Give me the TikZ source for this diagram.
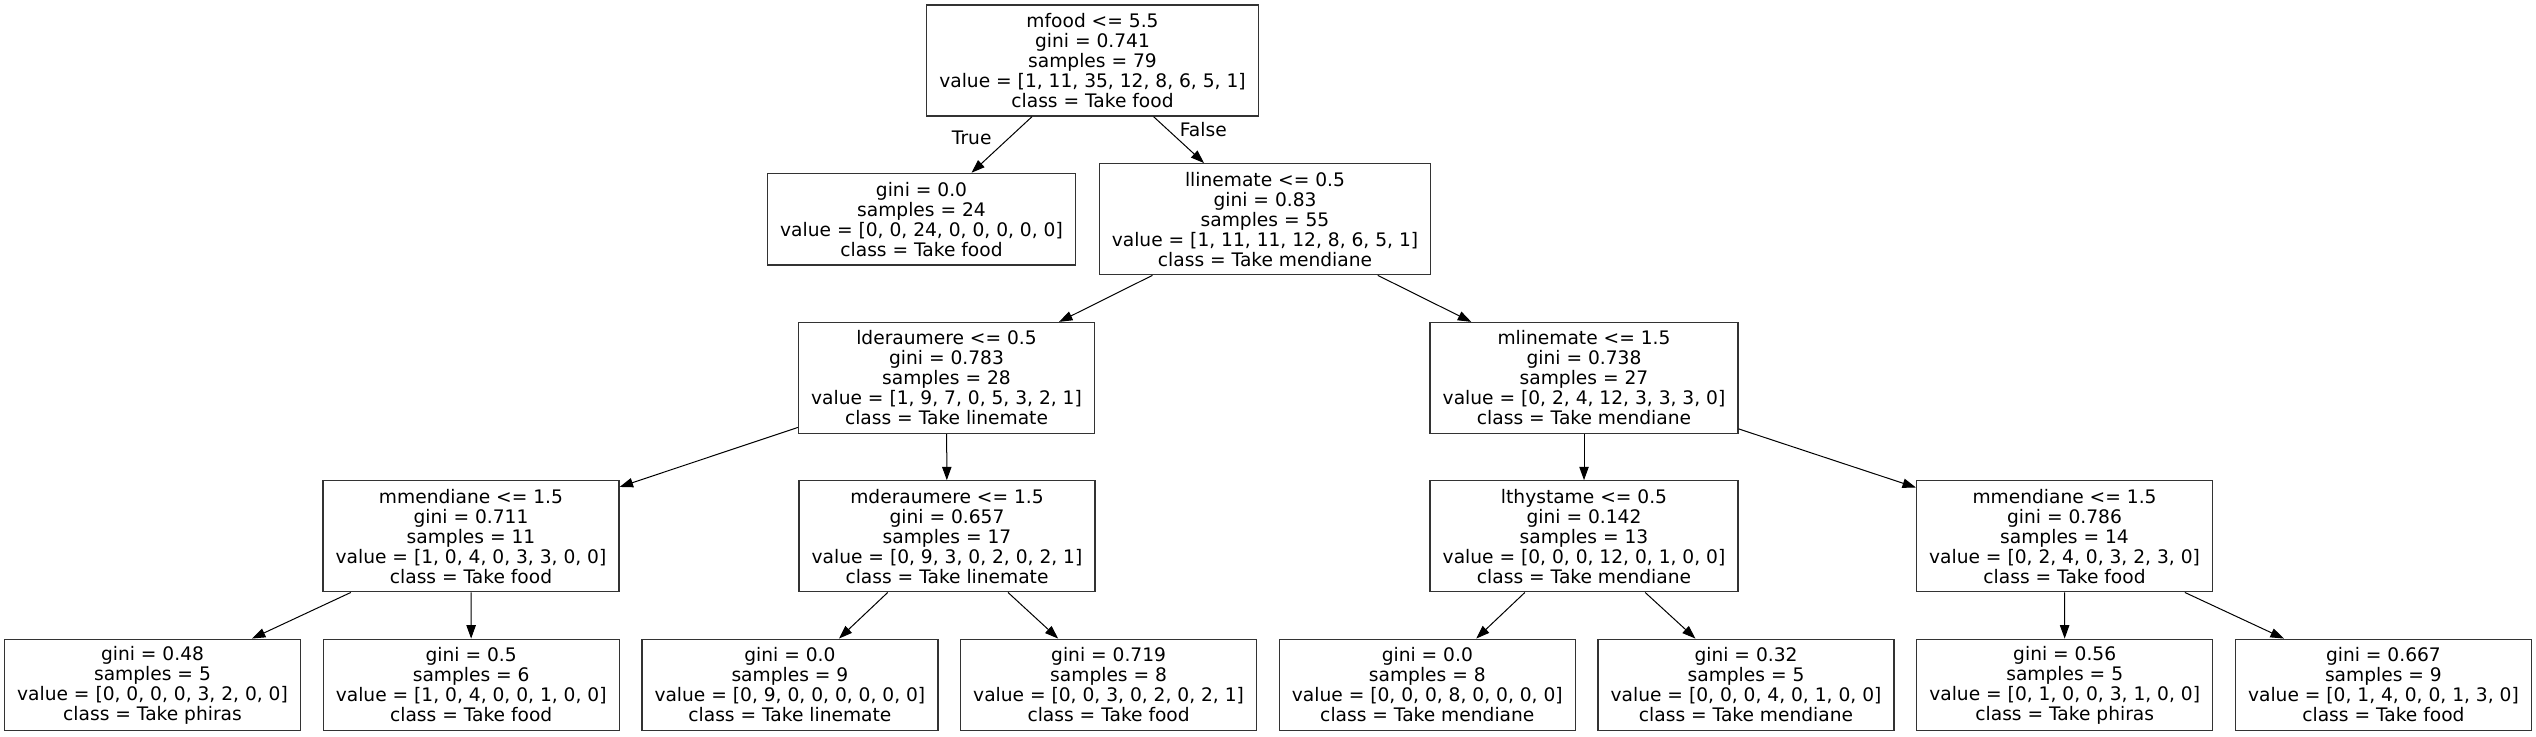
\documentclass[tikz,border=0pt]{standalone}
\usepackage{fontspec}
\setmainfont{DejaVu Sans}
\usetikzlibrary{arrows.meta}
\begin{document}
\begin{tikzpicture}[x=0.5pt,y=-0.5pt,
  box/.style={draw=black!80, line width=0.65pt, fill=white, align=center,
    font=\fontsize{9.32pt}{10pt}\selectfont, inner xsep=6.3pt, inner ysep=0pt},
  split/.style={box, minimum height=55.5pt},
  leaf/.style={box, minimum height=45.8pt},
  edge/.style={draw=black, line width=0.5pt, -{Triangle[length=6.7pt,width=4.7pt]}},
  lbl/.style={font=\fontsize{9.32pt}{10pt}\selectfont, inner sep=0pt}]
\useasboundingbox (0,0) rectangle (2536,736);

% level 0
\node[split] (n0) at (1092.5,60.5) {mfood <= 5.5\\gini = 0.741\\samples = 79\\value = [1, 11, 35, 12, 8, 6, 5, 1]\\class = Take food};
% level 1
\node[leaf] (n1) at (921.5,219.2) {gini = 0.0\\samples = 24\\value = [0, 0, 24, 0, 0, 0, 0, 0]\\class = Take food};
\node[split] (n2) at (1265,219.2) {llinemate <= 0.5\\gini = 0.83\\samples = 55\\value = [1, 11, 11, 12, 8, 6, 5, 1]\\class = Take mendiane};
% level 2
\node[split] (n3) at (946.5,378) {lderaumere <= 0.5\\gini = 0.783\\samples = 28\\value = [1, 9, 7, 0, 5, 3, 2, 1]\\class = Take linemate};
\node[split] (n10) at (1584,378) {mlinemate <= 1.5\\gini = 0.738\\samples = 27\\value = [0, 2, 4, 12, 3, 3, 3, 0]\\class = Take mendiane};
% level 3
\node[split] (n4) at (471,536.3) {mmendiane <= 1.5\\gini = 0.711\\samples = 11\\value = [1, 0, 4, 0, 3, 3, 0, 0]\\class = Take food};
\node[split] (n7) at (947,536.3) {mderaumere <= 1.5\\gini = 0.657\\samples = 17\\value = [0, 9, 3, 0, 2, 0, 2, 1]\\class = Take linemate};
\node[split] (n11) at (1584,536.3) {lthystame <= 0.5\\gini = 0.142\\samples = 13\\value = [0, 0, 0, 12, 0, 1, 0, 0]\\class = Take mendiane};
\node[split] (n14) at (2064.5,536.3) {mmendiane <= 1.5\\gini = 0.786\\samples = 14\\value = [0, 2, 4, 0, 3, 2, 3, 0]\\class = Take food};
% level 4
\node[leaf] (n5) at (152.5,685) {gini = 0.48\\samples = 5\\value = [0, 0, 0, 0, 3, 2, 0, 0]\\class = Take phiras};
\node[leaf] (n6) at (471.2,685) {gini = 0.5\\samples = 6\\value = [1, 0, 4, 0, 0, 1, 0, 0]\\class = Take food};
\node[leaf] (n8) at (789.9,685) {gini = 0.0\\samples = 9\\value = [0, 9, 0, 0, 0, 0, 0, 0]\\class = Take linemate};
\node[leaf] (n9) at (1108.6,685) {gini = 0.719\\samples = 8\\value = [0, 0, 3, 0, 2, 0, 2, 1]\\class = Take food};
\node[leaf] (n12) at (1427.3,685) {gini = 0.0\\samples = 8\\value = [0, 0, 0, 8, 0, 0, 0, 0]\\class = Take mendiane};
\node[leaf] (n13) at (1746,685) {gini = 0.32\\samples = 5\\value = [0, 0, 0, 4, 0, 1, 0, 0]\\class = Take mendiane};
\node[leaf] (n15) at (2064.7,685) {gini = 0.56\\samples = 5\\value = [0, 1, 0, 0, 3, 1, 0, 0]\\class = Take phiras};
\node[leaf] (n16) at (2383.4,685) {gini = 0.667\\samples = 9\\value = [0, 1, 4, 0, 0, 1, 3, 0]\\class = Take food};

% edges
\draw[edge] (n0) -- (n1);
\draw[edge] (n0) -- (n2);
\draw[edge] (n2) -- (n3);
\draw[edge] (n2) -- (n10);
\draw[edge] (n3) -- (n4);
\draw[edge] (n3) -- (n7);
\draw[edge] (n4) -- (n5);
\draw[edge] (n4) -- (n6);
\draw[edge] (n7) -- (n8);
\draw[edge] (n7) -- (n9);
\draw[edge] (n10) -- (n11);
\draw[edge] (n10) -- (n14);
\draw[edge] (n11) -- (n12);
\draw[edge] (n11) -- (n13);
\draw[edge] (n14) -- (n15);
\draw[edge] (n14) -- (n16);

% edge labels
\node[lbl] (lt) at (971.7,138.3) {True};
\node[lbl] (lf) at (1203.3,130) {False};
\end{tikzpicture}
\end{document}
